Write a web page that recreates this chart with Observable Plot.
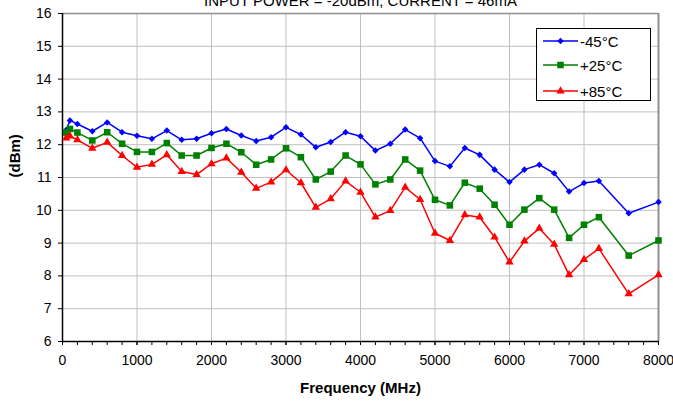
<!DOCTYPE html>
<html>
<head>
<meta charset="utf-8">
<script src="https://cdn.jsdelivr.net/npm/d3@7"></script>
<script src="https://cdn.jsdelivr.net/npm/@observablehq/plot@0.6"></script>
<style>
  html, body { margin: 0; padding: 0; background: white; }
  #wrap { position: relative; width: 673px; height: 405px; overflow: hidden; }
  #legend { position: absolute; left: 536px; top: 28px; width: 115px; height: 73px; border: 1px solid #000; background: #fff;
            font-family: "Liberation Sans", Arial, sans-serif; font-size: 15px; box-sizing: border-box; }
  .row { position: absolute; left: 0; height: 20px; display: flex; align-items: center; }
  .row svg { display: block; }
  .row span { margin-left: 0px; }
</style>
</head>
<body>
<div id="wrap"><div id="chart"></div><div id="legend"></div></div>
<script>
const freq = [50,100,200,400,600,800,1000,1200,1400,1600,1800,2000,2200,2400,2600,2800,3000,3200,3400,3600,3800,4000,4200,4400,4600,4800,5000,5200,5400,5600,5800,6000,6200,6400,6600,6800,7000,7200,7600,8000];
const series = ["-45°C", "+25°C", "+85°C"];
const gainM45 = [12.45,12.74,12.63,12.41,12.68,12.38,12.27,12.18,12.43,12.15,12.18,12.35,12.48,12.28,12.11,12.23,12.53,12.31,11.92,12.08,12.38,12.26,11.82,12.03,12.46,12.2,11.5,11.34,11.9,11.69,11.24,10.86,11.24,11.39,11.13,10.57,10.83,10.89,9.91,10.25];
const gainP25 = [12.37,12.48,12.37,12.13,12.38,12.03,11.78,11.78,12.05,11.67,11.67,11.9,12.03,11.77,11.39,11.55,11.89,11.62,10.94,11.18,11.67,11.4,10.79,10.94,11.55,11.21,10.32,10.15,10.84,10.66,10.17,9.56,10.02,10.37,10.02,9.16,9.56,9.79,8.62,9.08];
const gainP85 = [12.2,12.26,12.15,11.89,12.07,11.67,11.31,11.4,11.69,11.18,11.09,11.42,11.59,11.16,10.67,10.86,11.23,10.84,10.09,10.35,10.89,10.55,9.79,9.99,10.7,10.33,9.3,9.08,9.86,9.79,9.18,8.42,9.06,9.45,8.96,8.03,8.5,8.83,7.45,8.03];
const xTicks = [0,1000,2000,3000,4000,5000,6000,7000,8000];
const xMinorTicks = d3.range(0, 8001, 200);
const yTicks = [6,7,8,9,10,11,12,13,14,15,16];
const colors = ["#0000ff", "#008000", "#ff0000"];
const symbols = ["square", "square", "triangle"];
const rotations = [45, 0, 0];
const radii = [2.6, 3.7, 3.1];
const title = "INPUT POWER = -20dBm, CURRENT = 46mA";
const xLabel = "Frequency (MHz)";
const yLabel = "(dBm)";

const all = [gainM45, gainP25, gainP85];
const data = [];
all.forEach((vals, si) => vals.forEach((v, i) => data.push({series: series[si], f: freq[i], g: v})));

const lineMarks = series.map((s, si) => Plot.line(data.filter(d => d.series === s), {x: "f", y: "g", stroke: colors[si], strokeWidth: 1.5}));
const dotMarks = series.map((s, si) => Plot.dot(data.filter(d => d.series === s), {x: "f", y: "g", fill: colors[si], stroke: "none", symbol: symbols[si], r: radii[si], rotate: rotations[si]}));

const chart = Plot.plot({
  width: 673, height: 405,
  marginLeft: 62, marginRight: 15, marginTop: 13, marginBottom: 64,
  style: {fontFamily: "'Liberation Sans', Arial, sans-serif", fontSize: "14px", background: "white", color: "black", overflow: "hidden"},
  x: {domain: [0, 8000]},
  y: {domain: [6, 16]},
  marks: [
    Plot.gridX(xTicks, {stroke: "#c0c0c0", strokeOpacity: 1}),
    Plot.gridY(yTicks, {stroke: "#c0c0c0", strokeOpacity: 1}),
    Plot.ruleX([8000], {stroke: "#909090", strokeWidth: 2}),
    Plot.ruleY([16], {stroke: "#909090", strokeWidth: 1.5}),
    Plot.ruleX([0], {stroke: "#000", strokeWidth: 1.5}),
    Plot.ruleY([6], {stroke: "#000", strokeWidth: 1.5}),
    Plot.axisX(xMinorTicks, {tickSize: 4, tickFormat: () => "", label: null}),
    Plot.axisX(xTicks, {tickSize: 4, tickPadding: 10, tickFormat: d => String(d), label: null, fontSize: 14}),
    Plot.axisY(yTicks, {tickSize: 4, tickPadding: 7, label: null, fontSize: 14}),
    ...lineMarks,
    ...dotMarks,
    Plot.text([xLabel], {frameAnchor: "bottom", dy: 51, fontWeight: "bold", fontSize: 15}),
    Plot.text([yLabel], {frameAnchor: "left", dx: -47, rotate: -90, fontWeight: "bold", fontSize: 15}),
    Plot.text([title], {frameAnchor: "top", dy: -8, lineAnchor: "bottom", fontSize: 15})
  ]
});
document.getElementById("chart").appendChild(chart);

// Legend
const legend = document.getElementById("legend");
const rowTops = [2, 26, 52];
series.forEach((s, si) => {
  const row = document.createElement("div");
  row.className = "row";
  row.style.top = rowTops[si] + "px";
  const svg = d3.create("svg").attr("width", 43).attr("height", 20);
  svg.append("line").attr("x1", 6).attr("x2", 41).attr("y1", 10).attr("y2", 10).attr("stroke", colors[si]).attr("stroke-width", 1.5);
  const symType = si === 2 ? d3.symbolTriangle : d3.symbolSquare;
  const size = Math.PI * radii[si] * radii[si];
  svg.append("path").attr("d", d3.symbol(symType, size)()).attr("fill", colors[si])
     .attr("transform", `translate(23.5,10) rotate(${rotations[si]})`);
  row.appendChild(svg.node());
  const span = document.createElement("span");
  span.textContent = s;
  row.appendChild(span);
  legend.appendChild(row);
});
</script>
</body>
</html>
